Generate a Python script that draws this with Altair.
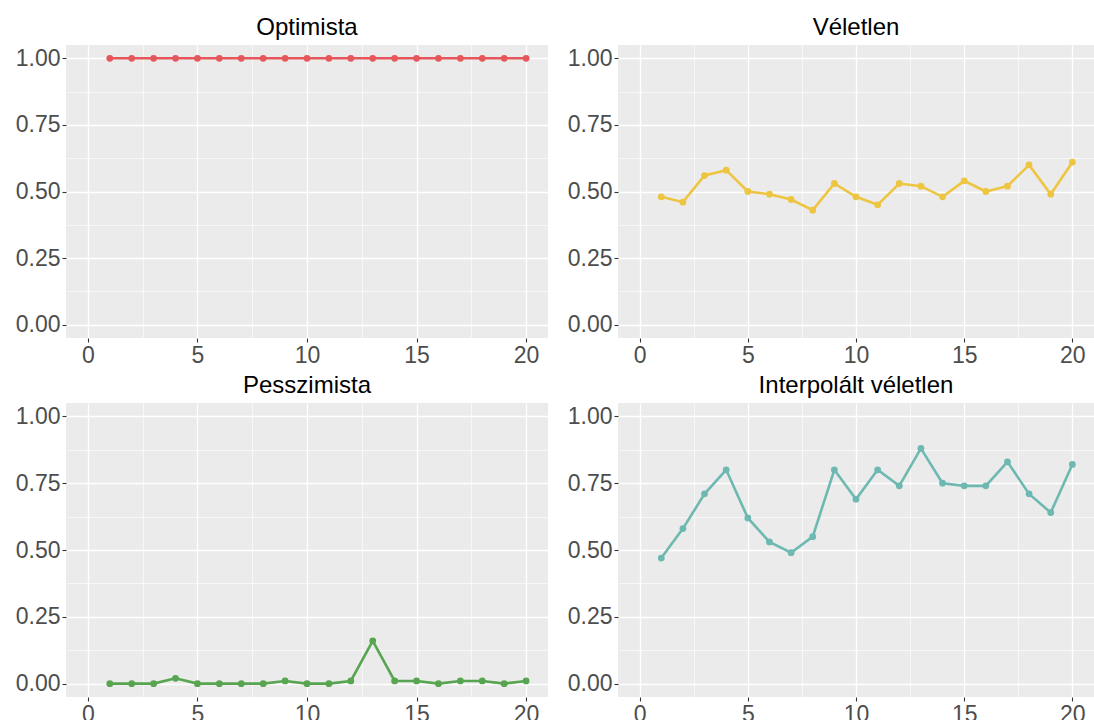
import altair as alt
import pandas as pd

# Round index 1..20
rounds = list(range(1, 21))

# Score per round for each strategy
optimista = [1.00] * 20
veletlen = [0.48, 0.46, 0.56, 0.58, 0.50, 0.49, 0.47, 0.43, 0.53, 0.48,
            0.45, 0.53, 0.52, 0.48, 0.54, 0.50, 0.52, 0.60, 0.49, 0.61]
pesszimista = [0.00, 0.00, 0.00, 0.02, 0.00, 0.00, 0.00, 0.00, 0.01, 0.00,
               0.00, 0.01, 0.16, 0.01, 0.01, 0.00, 0.01, 0.01, 0.00, 0.01]
interpolalt = [0.47, 0.58, 0.71, 0.80, 0.62, 0.53, 0.49, 0.55, 0.80, 0.69,
               0.80, 0.74, 0.88, 0.75, 0.74, 0.74, 0.83, 0.71, 0.64, 0.82]

titles = ["Optimista", "Véletlen", "Pesszimista", "Interpolált véletlen"]
colors = ["#E5575B", "#EEC540", "#58A551", "#6DB9B1"]

x_ticks = [0, 2.5, 5, 7.5, 10, 12.5, 15, 17.5, 20]
y_ticks = [0, 0.125, 0.25, 0.375, 0.5, 0.625, 0.75, 0.875, 1.0]

FONT = "Liberation Sans"

x_major = "datum.value % 5 === 0"
y_major = "(datum.value * 4) % 1 === 0"


def panel(title, values, color, width, height):
    df = pd.DataFrame({"kor": rounds, "ertek": values})
    x_enc = alt.X(
        "kor:Q",
        scale=alt.Scale(domain=[-1, 21], nice=False, zero=False),
        axis=alt.Axis(
            title=None,
            values=x_ticks,
            labelExpr=f"{x_major} ? format(datum.value, 'd') : ''",
            gridWidth={"condition": {"test": x_major, "value": 1.3}, "value": 0.6},
            tickOpacity={"condition": {"test": x_major, "value": 1}, "value": 0},
        ),
    )
    y_enc = alt.Y(
        "ertek:Q",
        scale=alt.Scale(domain=[-0.05, 1.05], nice=False, zero=False),
        axis=alt.Axis(
            title=None,
            values=y_ticks,
            labelExpr=f"{y_major} ? format(datum.value, '.2f') : ''",
            gridWidth={"condition": {"test": y_major, "value": 1.3}, "value": 0.6},
            tickOpacity={"condition": {"test": y_major, "value": 1}, "value": 0},
        ),
    )
    base = alt.Chart(df).encode(x=x_enc, y=y_enc)
    line = base.mark_line(color=color, strokeWidth=2.6)
    pts = base.mark_circle(color=color, size=46, opacity=1)
    return (line + pts).properties(
        width=width,
        height=height,
        title=alt.TitleParams(
            text=title, font=FONT, fontSize=24, fontWeight="normal",
            color="#000000", anchor="middle", offset=5,
        ),
    )


top = alt.hconcat(
    panel(titles[0], optimista, colors[0], 482, 293),
    panel(titles[1], veletlen, colors[1], 476, 293),
    spacing=19,
)
bottom = alt.hconcat(
    panel(titles[2], pesszimista, colors[2], 482, 294),
    panel(titles[3], interpolalt, colors[3], 476, 294),
    spacing=19,
)

chart = (
    alt.vconcat(top, bottom, spacing=7)
    .properties(padding={"left": 15, "top": 16, "right": 0, "bottom": 0})
    .configure_view(fill="#EBEBEB", stroke=None)
    .configure_axis(
        domain=False,
        gridColor="#FFFFFF",
        gridOpacity=1,
        labelFont=FONT,
        labelFontSize=23,
        labelColor="#4D4D4D",
        tickColor="#333333",
        tickSize=4,
        tickWidth=1.1,
        labelPadding=2,
    )
    .configure_concat(spacing=0)
)

chart.save("out.html", embed_options={"renderer": "svg", "actions": False})
